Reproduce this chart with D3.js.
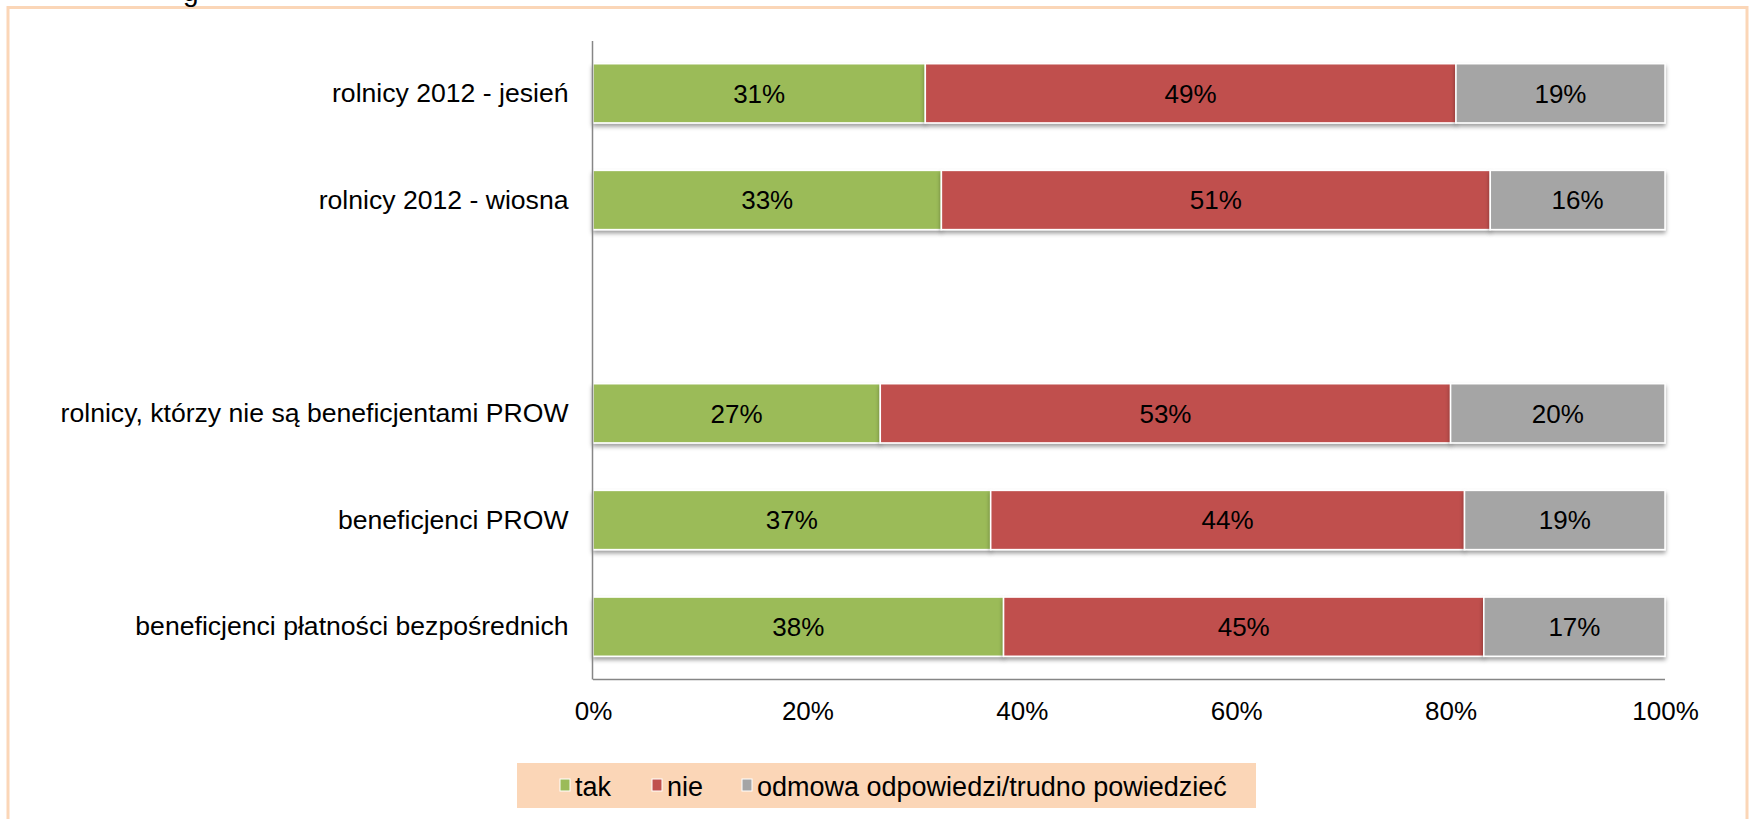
<!DOCTYPE html>
<html>
<head>
<meta charset="utf-8">
<script src="https://cdn.jsdelivr.net/npm/d3@7"></script>
<style>
  html, body { margin: 0; padding: 0; background: #fff; }
  svg { display: block; font-family: "Liberation Sans", Arial, sans-serif; }
</style>
</head>
<body>
<svg id="chart" width="1750" height="819"></svg>
<script>
// ---- data ----
const categories = [
  "rolnicy 2012 - jesień",
  "rolnicy 2012 - wiosna",
  "",
  "rolnicy, którzy nie są beneficjentami PROW",
  "beneficjenci PROW",
  "beneficjenci płatności bezpośrednich"
];
const seriesNames = ["tak", "nie", "odmowa odpowiedzi/trudno powiedzieć"];
const takValues  = [31.0, 32.5, null, 26.8, 37.1, 38.3];
const nieValues  = [49.5, 51.2, null, 53.2, 44.2, 44.8];
const odmValues  = [19.5, 16.3, null, 20.0, 18.7, 16.9];
const takLabels  = ["31%", "33%", null, "27%", "37%", "38%"];
const nieLabels  = ["49%", "51%", null, "53%", "44%", "45%"];
const odmLabels  = ["19%", "16%", null, "20%", "19%", "17%"];
const xTicks = [0, 20, 40, 60, 80, 100];
const titleFragment = "g";

const colors = ["#9BBB59", "#C0504D", "#A5A5A5"];

// ---- setup ----
const svg = d3.select("#chart");
const plot = { left: 593, right: 1665, top: 40, bottom: 680 };

// drop shadow filter
const defs = svg.append("defs");
const f = defs.append("filter").attr("id", "shadow")
  .attr("x", "-5%").attr("y", "-20%").attr("width", "110%").attr("height", "160%");
f.append("feDropShadow").attr("dx", 0).attr("dy", 3).attr("stdDeviation", 2.2)
  .attr("flood-color", "#000").attr("flood-opacity", 0.38);

// outer peach frame
svg.append("rect")
  .attr("x", 8).attr("y", 7.5).attr("width", 1739).attr("height", 900)
  .attr("fill", "none").attr("stroke", "#FBD6B7").attr("stroke-width", 3);

// cut-off title fragment (only its descender is inside the picture)
svg.append("text").attr("x", 183).attr("y", 0.5)
  .attr("font-size", 28).attr("fill", "#000").text(titleFragment);

const x = d3.scaleLinear().domain([0, 100]).range([plot.left, plot.right]);
const y = d3.scaleBand().domain(categories).range([plot.top, plot.bottom])
  .paddingInner(0.445).paddingOuter(0.2225);

// stacked data
const rows = categories.map((c, i) => ({
  cat: c, tak: takValues[i], nie: nieValues[i], odm: odmValues[i],
  labels: [takLabels[i], nieLabels[i], odmLabels[i]]
})).filter(d => d.tak !== null);
const keys = ["tak", "nie", "odm"];
const stacked = d3.stack().keys(keys)(rows);

const g = svg.append("g");
stacked.forEach((layer, li) => {
  const lg = g.append("g").attr("filter", "url(#shadow)");
  lg.selectAll("rect").data(layer).join("rect")
    .attr("x", d => x(d[0]))
    .attr("y", d => y(d.data.cat))
    .attr("width", d => x(d[1]) - x(d[0]))
    .attr("height", y.bandwidth())
    .attr("fill", colors[li])
    .attr("stroke", "#fff").attr("stroke-width", 1.5);
});
stacked.forEach((layer, li) => {
  g.append("g").selectAll("text").data(layer).join("text")
    .attr("x", d => (x(d[0]) + x(d[1])) / 2)
    .attr("y", d => y(d.data.cat) + y.bandwidth() / 2)
    .attr("dy", "0.36em")
    .attr("text-anchor", "middle")
    .attr("font-size", 26).attr("fill", "#000")
    .text(d => d.data.labels[li]);
});

// axes
const xAxis = d3.axisBottom(x).tickValues(xTicks).tickFormat(d => d + "%").tickSize(0).tickPadding(22);
const xa = svg.append("g").attr("transform", `translate(0,${plot.bottom - 0.5})`).call(xAxis);
xa.select(".domain").attr("stroke", "#868686").attr("stroke-width", 1.5)
  .attr("d", `M${plot.left},0H${plot.right}`);
xa.selectAll("text").attr("font-size", 26).attr("fill", "#000")
  .attr("font-family", "Liberation Sans, Arial, sans-serif");

const yAxis = d3.axisLeft(y).tickSize(0).tickPadding(24);
const ya = svg.append("g").attr("transform", `translate(${plot.left - 0.5},0)`).call(yAxis);
ya.select(".domain").attr("stroke", "#868686").attr("stroke-width", 1.5)
  .attr("d", `M0,${plot.top + 1}V${plot.bottom - 0.5}`);
ya.selectAll("text").attr("font-size", 26.6).attr("fill", "#000")
  .attr("font-family", "Liberation Sans, Arial, sans-serif");

// legend
const legend = svg.append("g");
legend.append("rect").attr("x", 517).attr("y", 763).attr("width", 739).attr("height", 45)
  .attr("fill", "#FBD6B7");
const legendItems = [
  { name: seriesNames[0], color: colors[0], x: 560 },
  { name: seriesNames[1], color: colors[1], x: 652 },
  { name: seriesNames[2], color: colors[2], x: 742 }
];
legendItems.forEach(it => {
  legend.append("rect").attr("x", it.x).attr("y", 779).attr("width", 10).attr("height", 12)
    .attr("fill", it.color).attr("stroke", "#fff").attr("stroke-width", 1);
  legend.append("text").attr("x", it.x + 15).attr("y", 796)
    .attr("font-size", 27).attr("fill", "#000").text(it.name);
});
</script>
</body>
</html>
